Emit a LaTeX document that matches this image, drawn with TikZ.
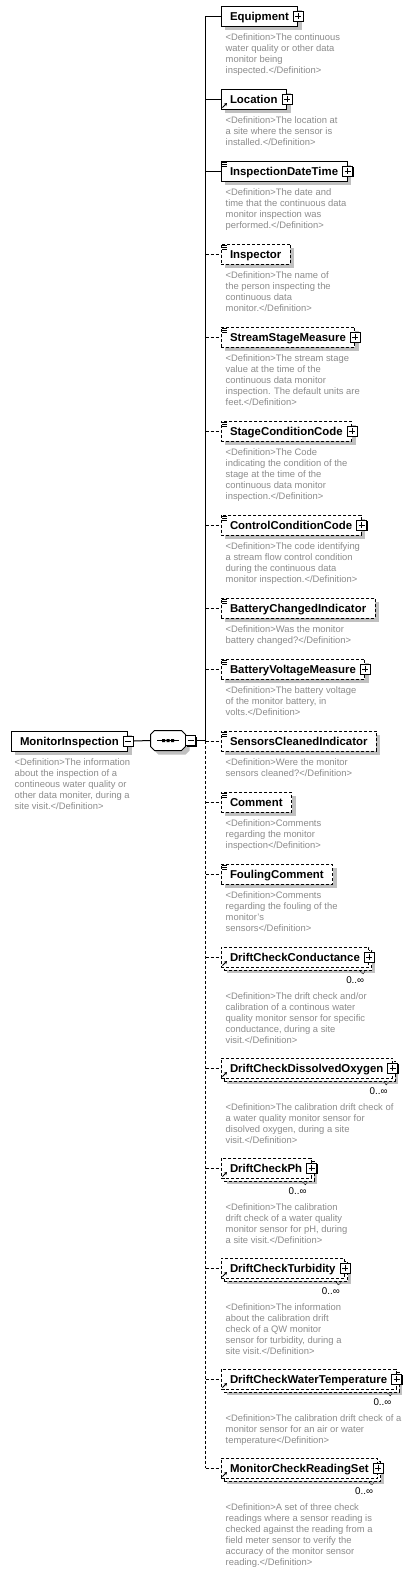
\documentclass[tikz,border=0pt]{standalone}
\usepackage{fontspec}
\setmainfont{Liberation Sans}
\usetikzlibrary{shadows,calc,arrows.meta}
\definecolor{shadowgray}{RGB}{192,192,192}
\definecolor{defgray}{RGB}{140,140,140}
\newcommand\myelemfont{\fontsize{11.4}{13}\selectfont\bfseries}
\newcommand\mydeffont{\fontsize{9.4}{11}\selectfont}
\newcommand\mymultfont{\fontsize{9.8}{11}\selectfont}
\newcommand\simpleicon[1]{%
  \draw[line width=0.7pt] ($(#1.north west)+(1.5,1.6)$) -- ++(4.5,0)
     ($(#1.north west)+(1.5,3.6)$) -- ++(4.5,0)
     ($(#1.north west)+(1.5,5.6)$) -- ++(4.5,0);}
\newcommand\refarrow[1]{%
  \draw[line width=0.9pt,-{Stealth[length=3pt,width=3.5pt]}] ($(#1.south west)+(2,-2)$) -- ++(4.5,-4.5);}
\newcommand\multlabel[1]{%
  \node[multnode] (#1-m) at ($(#1.south east)+(-5,13)$) {0..∞};
  \draw[line width=0.7pt, dash pattern=on 1pt off 1pt] ($(#1.south east)+(-9,3.5)$) -- ($(#1.south east)+(-6.5,6.5)$) -- ($(#1.south east)+(-4,3.5)$);}
\tikzset{
  boxbase/.style={draw, line width=1pt, fill=white, minimum height=20pt, inner xsep=9pt, inner ysep=0pt, text height=8.2pt, text depth=0pt, font=\myelemfont, anchor=north west},
  reqbox/.style={boxbase, drop shadow={shadow xshift=4pt, shadow yshift=-4pt, opacity=1, fill=shadowgray}},
  optbox/.style={reqbox, dash pattern=on 3pt off 2pt},
  backbox/.style={boxbase, dash pattern=on 3pt off 2pt, text=white, drop shadow={shadow xshift=3pt, shadow yshift=-3pt, opacity=1, fill=shadowgray}},
  multibox/.style={boxbase, dash pattern=on 3pt off 2pt},
  btn/.style={draw, line width=1pt, fill=white, minimum size=10pt, inner sep=0pt, drop shadow={shadow xshift=1pt, shadow yshift=-1pt, opacity=1, fill=black}},
  plusbtn/.style={btn, path picture={\draw[line width=1pt] ([xshift=2pt]path picture bounding box.west) -- ([xshift=-2pt]path picture bounding box.east) ([yshift=-2pt]path picture bounding box.north) -- ([yshift=2pt]path picture bounding box.south);}},
  minusbtn/.style={btn, path picture={\draw[line width=1pt] ([xshift=2pt]path picture bounding box.west) -- ([xshift=-2pt]path picture bounding box.east);}},
  conn/.style={line width=1pt},
  optconn/.style={line width=1pt, dash pattern=on 3pt off 2pt},
  deftext/.style={anchor=base west, inner sep=0pt, font=\mydeffont, text=defgray},
  multnode/.style={anchor=east, inner sep=0pt, font=\mymultfont}
}
\begin{document}
\begin{tikzpicture}[x=1pt,y=-1pt]
\fill[white] (0,0) rectangle (420,1572);
\useasboundingbox (0,0) rectangle (420,1572);

% root element
\node[reqbox] (mi) at (10.5,730.5) {MonitorInspection\hspace{3pt}};
\node[minusbtn] (mib) at (mi.east) {};
\node[deftext] (mid) at (14.5,765.8) {\vtop{\hbox{<Definition>The information}\hbox{about the inspection of a}\hbox{contineous water quality or}\hbox{other data moniter, during a}\hbox{site visit.</Definition>}}};

% sequence compositor
\begin{scope}[xshift=4pt,yshift=-4pt]
\fill[shadowgray] (154.5,730.5) -- (181.5,730.5) -- (185.5,734.5) -- (185.5,746.5) -- (181.5,750.5) -- (154.5,750.5) -- (150.5,746.5) -- (150.5,734.5) -- cycle;
\end{scope}
\node[inner sep=0pt, minimum width=35pt, minimum height=20pt] (seq) at (168,740.5) {};
\draw[line width=1pt, fill=white] (154.5,730.5) -- (181.5,730.5) -- (185.5,734.5) -- (185.5,746.5) -- (181.5,750.5) -- (154.5,750.5) -- (150.5,746.5) -- (150.5,734.5) -- cycle;
\draw[line width=1pt] (157,740.5) -- (179,740.5);
\fill (162,739) rectangle (165,742) (166.5,739) rectangle (169.5,742) (171,739) rectangle (174,742);
\node[minusbtn] (seqb) at (190.5,740.5) {};
\coordinate (jn) at (205.5,740.5);

% children
\node[reqbox] (eq) at (220.5,5.5) {Equipment\hspace{3pt}};
\node[plusbtn] (eqb) at (eq.east) {};
\node[deftext] (eqd) at ($(eq.north west)+(5,35.3)$) {\vtop{\hbox{<Definition>The continuous}\hbox{water quality or other data}\hbox{monitor being}\hbox{inspected.</Definition>}}};

\node[reqbox] (loc) at (220.5,88.5) {Location\hspace{3pt}};
\node[plusbtn] (locb) at (loc.east) {};
\refarrow{loc}
\node[deftext] (locd) at ($(loc.north west)+(5,35.3)$) {\vtop{\hbox{<Definition>The location at}\hbox{a site where the sensor is}\hbox{installed.</Definition>}}};

\node[reqbox] (idt) at (220.5,160.5) {InspectionDateTime\hspace{3pt}};
\node[plusbtn] (idtb) at (idt.east) {};
\simpleicon{idt}
\node[deftext] (idtd) at ($(idt.north west)+(5,35.3)$) {\vtop{\hbox{<Definition>The date and}\hbox{time that the continuous data}\hbox{monitor inspection was}\hbox{performed.</Definition>}}};

\node[optbox] (insp) at (220.5,243.5) {Inspector};
\simpleicon{insp}
\node[deftext] (inspd) at ($(insp.north west)+(5,35.3)$) {\vtop{\hbox{<Definition>The name of}\hbox{the person inspecting the}\hbox{continuous data}\hbox{monitor.</Definition>}}};

\node[optbox] (ssm) at (220.5,326.5) {StreamStageMeasure\hspace{3pt}};
\node[plusbtn] (ssmb) at (ssm.east) {};
\simpleicon{ssm}
\node[deftext] (ssmd) at ($(ssm.north west)+(5,35.3)$) {\vtop{\hbox{<Definition>The stream stage}\hbox{value at the time of the}\hbox{continuous data monitor}\hbox{inspection. The default units are}\hbox{feet.</Definition>}}};

\node[optbox] (scc) at (220.5,420.5) {StageConditionCode\hspace{3pt}};
\node[plusbtn] (sccb) at (scc.east) {};
\simpleicon{scc}
\node[deftext] (sccd) at ($(scc.north west)+(5,35.3)$) {\vtop{\hbox{<Definition>The Code}\hbox{indicating the condition of the}\hbox{stage at the time of the}\hbox{continuous data monitor}\hbox{inspection.</Definition>}}};

\node[optbox] (ccc) at (220.5,514.5) {ControlConditionCode\hspace{3pt}};
\node[plusbtn] (cccb) at (ccc.east) {};
\simpleicon{ccc}
\node[deftext] (cccd) at ($(ccc.north west)+(5,35.3)$) {\vtop{\hbox{<Definition>The code identifying}\hbox{a stream flow control condition}\hbox{during the continuous data}\hbox{monitor inspection.</Definition>}}};

\node[optbox] (bci) at (220.5,597.5) {BatteryChangedIndicator};
\simpleicon{bci}
\node[deftext] (bcid) at ($(bci.north west)+(5,35.3)$) {\vtop{\hbox{<Definition>Was the monitor}\hbox{battery changed?</Definition>}}};

\node[optbox] (bvm) at (220.5,658.5) {BatteryVoltageMeasure\hspace{3pt}};
\node[plusbtn] (bvmb) at (bvm.east) {};
\simpleicon{bvm}
\node[deftext] (bvmd) at ($(bvm.north west)+(5,35.3)$) {\vtop{\hbox{<Definition>The battery voltage}\hbox{of the monitor battery, in}\hbox{volts.</Definition>}}};

\node[optbox] (sci) at (220.5,730.5) {SensorsCleanedIndicator};
\simpleicon{sci}
\node[deftext] (scid) at ($(sci.north west)+(5,35.3)$) {\vtop{\hbox{<Definition>Were the monitor}\hbox{sensors cleaned?</Definition>}}};

\node[optbox] (com) at (220.5,791.5) {Comment};
\simpleicon{com}
\node[deftext] (comd) at ($(com.north west)+(5,35.3)$) {\vtop{\hbox{<Definition>Comments}\hbox{regarding the monitor}\hbox{inspection</Definition>}}};

\node[optbox] (fc) at (220.5,863.5) {FoulingComment};
\simpleicon{fc}
\node[deftext] (fcd) at ($(fc.north west)+(5,35.3)$) {\vtop{\hbox{<Definition>Comments}\hbox{regarding the fouling of the}\hbox{monitor's}\hbox{sensors</Definition>}}};

\node[backbox] (dcck) at (223.5,949.5) {DriftCheckConductance\hspace{3pt}};
\node[multibox] (dcc) at (220.5,946.5) {DriftCheckConductance\hspace{3pt}};
\node[plusbtn] (dccb) at (dcc.east) {};
\refarrow{dcc}
\multlabel{dcc}
\node[deftext] (dccd) at ($(dcc.north west)+(5,52.5)$) {\vtop{\hbox{<Definition>The drift check and/or}\hbox{calibration of a continous water}\hbox{quality monitor sensor for specific}\hbox{conductance, during a site}\hbox{visit.</Definition>}}};

\node[backbox] (dcdok) at (223.5,1060.5) {DriftCheckDissolvedOxygen\hspace{3pt}};
\node[multibox] (dcdo) at (220.5,1057.5) {DriftCheckDissolvedOxygen\hspace{3pt}};
\node[plusbtn] (dcdob) at (dcdo.east) {};
\refarrow{dcdo}
\multlabel{dcdo}
\node[deftext] (dcdod) at ($(dcdo.north west)+(5,52.5)$) {\vtop{\hbox{<Definition>The calibration drift check of}\hbox{a water quality monitor sensor for}\hbox{disolved oxygen, during a site}\hbox{visit.</Definition>}}};

\node[backbox] (dcphk) at (223.5,1160.5) {DriftCheckPh\hspace{3pt}};
\node[multibox] (dcph) at (220.5,1157.5) {DriftCheckPh\hspace{3pt}};
\node[plusbtn] (dcphb) at (dcph.east) {};
\refarrow{dcph}
\multlabel{dcph}
\node[deftext] (dcphd) at ($(dcph.north west)+(5,52.5)$) {\vtop{\hbox{<Definition>The calibration}\hbox{drift check of a water quality}\hbox{monitor sensor for pH, during}\hbox{a site visit.</Definition>}}};

\node[backbox] (dctk) at (223.5,1260.5) {DriftCheckTurbidity\hspace{3pt}};
\node[multibox] (dct) at (220.5,1257.5) {DriftCheckTurbidity\hspace{3pt}};
\node[plusbtn] (dctb) at (dct.east) {};
\refarrow{dct}
\multlabel{dct}
\node[deftext] (dctd) at ($(dct.north west)+(5,52.5)$) {\vtop{\hbox{<Definition>The information}\hbox{about the calibration drift}\hbox{check of a QW monitor}\hbox{sensor for turbidity, during a}\hbox{site visit.</Definition>}}};

\node[backbox] (dcwtk) at (223.5,1371.5) {DriftCheckWaterTemperature\hspace{3pt}};
\node[multibox] (dcwt) at (220.5,1368.5) {DriftCheckWaterTemperature\hspace{3pt}};
\node[plusbtn] (dcwtb) at (dcwt.east) {};
\refarrow{dcwt}
\multlabel{dcwt}
\node[deftext] (dcwtd) at ($(dcwt.north west)+(5,52.5)$) {\vtop{\hbox{<Definition>The calibration drift check of a}\hbox{monitor sensor for an air or water}\hbox{temperature</Definition>}}};

\node[backbox] (mcrsk) at (223.5,1460.5) {MonitorCheckReadingSet\hspace{3pt}};
\node[multibox] (mcrs) at (220.5,1457.5) {MonitorCheckReadingSet\hspace{3pt}};
\node[plusbtn] (mcrsb) at (mcrs.east) {};
\refarrow{mcrs}
\multlabel{mcrs}
\node[deftext] (mcrsd) at ($(mcrs.north west)+(5,52.5)$) {\vtop{\hbox{<Definition>A set of three check}\hbox{readings where a sensor reading is}\hbox{checked against the reading from a}\hbox{field meter sensor to verify the}\hbox{accuracy of the monitor sensor}\hbox{reading.</Definition>}}};

% connectors
\draw[conn] (mib.east) -- (seq.west);
\draw[conn] (seqb.east) -- (jn);
\draw[conn] (jn) -- (jn |- eq.west);
\draw[optconn] (jn) -- (jn |- mcrs.west);
\foreach \n in {eq,loc,idt} \draw[conn] (jn |- \n.west) -- (\n.west);
\foreach \n in {insp,ssm,scc,ccc,bci,bvm,sci,com,fc,dcc,dcdo,dcph,dct,dcwt,mcrs} \draw[optconn] (jn |- \n.west) -- (\n.west);
\end{tikzpicture}
\end{document}
